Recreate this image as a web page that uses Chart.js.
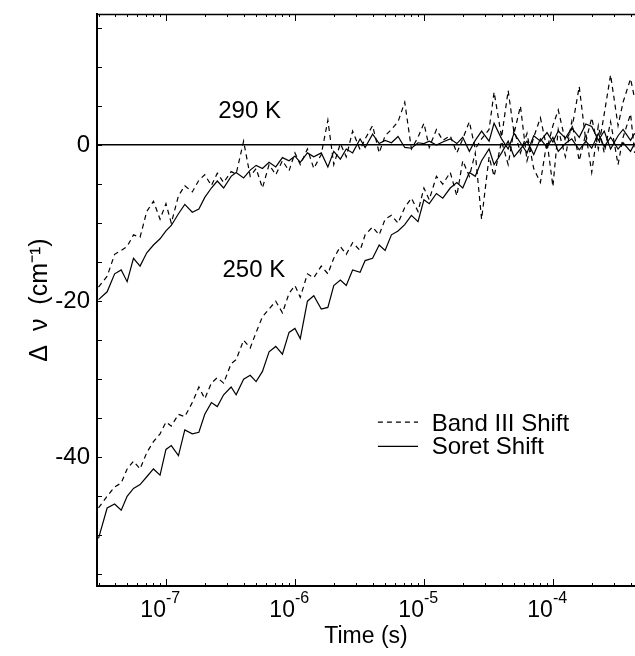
<!DOCTYPE html>
<html lang="en">

<head>
    <meta charset="UTF-8">
    <title>Band III and Soret shift</title>
    <script src="https://cdn.jsdelivr.net/npm/chart.js"></script>
    <style>
        body { margin: 0; background: #fff; }
        .graph { position: relative; width: 635px; height: 656px; }
    </style>
</head>

<body>
    <div class="graph">
        <canvas id="canvas_shift"></canvas>
    </div>
</body>

</html>
<script>
    // time base (s), shared by the four traces
    const tempos = [
        3.0e-8, 3.5e-8, 4.0e-8, 4.5e-8, 5.0e-8, 5.6e-8, 6.3e-8, 7.1e-8, 8.0e-8, 9.0e-8,
        1.0e-7, 1.1e-7, 1.25e-7, 1.4e-7, 1.6e-7, 1.8e-7, 2.0e-7, 2.25e-7, 2.5e-7, 2.8e-7,
        3.2e-7, 3.5e-7, 4.0e-7, 4.5e-7, 5.0e-7, 5.6e-7, 6.3e-7, 7.1e-7, 8.0e-7, 9.0e-7,
        1.0e-6, 1.1e-6, 1.25e-6, 1.4e-6, 1.6e-6, 1.8e-6, 2.0e-6, 2.25e-6, 2.5e-6, 2.8e-6,
        3.2e-6, 3.5e-6, 4.0e-6, 4.5e-6, 5.0e-6, 5.6e-6, 6.3e-6, 7.1e-6, 8.0e-6, 9.0e-6,
        1.0e-5, 1.1e-5, 1.25e-5, 1.4e-5, 1.6e-5, 1.8e-5, 2.0e-5, 2.25e-5, 2.5e-5, 2.8e-5,
        3.2e-5, 3.5e-5, 4.0e-5, 4.5e-5, 5.0e-5, 5.6e-5, 6.3e-5, 7.1e-5, 8.0e-5, 9.0e-5,
        1.0e-4, 1.1e-4, 1.25e-4, 1.4e-4, 1.6e-4, 1.8e-4, 2.0e-4, 2.25e-4, 2.5e-4, 2.8e-4,
        3.2e-4, 3.5e-4, 4.0e-4, 4.3e-4
    ];

    // 290 K
    const soret290 = [
        -19.8, -18.8, -16.5, -16.0, -17.5, -14.5, -15.5, -13.8, -12.8, -12.0,
        -11.0, -10.3, -8.8, -7.6, -8.6, -8.2, -6.7, -5.5, -4.6, -5.5,
        -4.0, -3.5, -4.2, -3.2, -2.6, -3.0, -2.2, -2.8, -1.6, -2.0,
        -1.4, -2.2, -1.0, -1.5, -1.0, -2.8, -0.8, -1.8, -0.5, -1.0,
        0.8, -0.3, 1.4, 0.2, 0.6, 0.3, 1.1, -0.3, -0.4, 0.3,
        0.2, 0.5, 0.0, 0.4, 0.8, 0.2, 1.0, -0.8, 0.6, 1.8,
        0.5, 2.8, 0.8, -0.5, 1.5, 0.3, -1.0, 1.2, 0.5, 1.6,
        0.4, 1.8, 0.9, 2.2, 1.0, 2.7, 2.4, 0.6, 1.8, -0.5,
        1.2, 2.0, 0.6, 1.5
    ];
    const banda290 = [
        -18.2, -16.8, -14.0, -13.5, -13.0, -11.5, -11.8, -8.5, -7.2, -9.5,
        -7.5, -10.0, -6.5, -5.2, -6.0, -4.5, -3.8, -5.2, -3.6, -4.8,
        -3.4, -3.7, 0.5, -4.0, -3.0, -5.5, -2.5, -3.8, -2.0, -3.3,
        -1.0, -2.5, -0.5, -3.0, -1.2, 3.2, -2.5, 0.2, -1.5, 1.8,
        -0.6, 0.8, 2.5, -1.0, 1.2, 2.0, 3.0, 5.5, -0.5, 1.0,
        2.8, -0.3, 2.0, 0.6, 1.2, -1.0, 0.8, 3.0, -0.5, 0.8,
        2.0, 6.8, 1.0, 7.0, 1.5, 5.0, -2.0, 1.0, 3.5, -0.5,
        2.5, 4.5, 0.5, 2.0, 7.5, 0.5, 3.5, -0.5, 4.0, 9.0,
        2.5, 5.5, 8.5, 6.0
    ];

    // 250 K
    const soret250 = [
        -50.4, -46.5, -46.0, -46.8, -45.0, -44.0, -43.5, -42.5, -41.5, -42.3,
        -39.0, -38.5, -39.8, -36.5, -37.0, -36.8, -34.5, -33.0, -33.5, -32.0,
        -31.0, -32.0, -30.0, -29.5, -30.3, -29.0, -26.5, -25.8, -26.8, -24.0,
        -23.5, -24.8, -20.0, -19.3, -21.0, -20.8, -18.0, -17.3, -18.0, -16.0,
        -16.3, -14.8, -14.5, -12.8, -13.5, -11.5, -11.0, -10.2, -9.0, -9.8,
        -7.0, -7.5, -6.2, -6.8, -5.5, -4.8, -5.5, -3.5, -4.0, -2.0,
        -0.5, -2.5, -1.0, 0.5, -1.5, -0.5, 0.5, -1.2, 0.8, -0.3,
        1.0, -0.8, 0.2, 0.8, -0.6, 0.5, -0.4, 1.5, -0.2, 1.0,
        -0.5, 0.3, -0.8, 0.2
    ];
    const banda250 = [
        -46.5, -45.0, -43.8, -43.3, -41.5, -40.5, -41.5, -39.4, -38.0, -37.0,
        -35.5, -36.0, -34.5, -34.8, -33.0, -31.0, -32.5, -30.5, -29.8, -30.5,
        -28.0, -27.5, -25.0, -26.0, -24.0, -22.0, -21.0, -20.0, -21.5, -19.0,
        -18.0, -19.5, -16.5, -17.0, -15.5, -16.5, -14.5, -13.0, -14.0, -12.5,
        -13.5, -11.5, -10.5, -11.5, -9.5, -9.0, -10.0, -8.0, -6.8, -8.5,
        -5.5, -7.0, -4.0, -5.0, -3.5, -6.5, -2.0, -4.0, -1.0, -9.5,
        -1.5, -4.0, 0.5, -2.5, 2.0, -1.0, 1.5, -3.0, -4.8, 0.5,
        -5.3, 2.0, -1.5, 3.0, -2.0, 1.5, -3.5, 2.5, -1.0, 3.0,
        -2.5, 1.0, 4.0, -1.0
    ];

    const ticksY = [0, -20, -40];
    const decadas = [1e-7, 1e-6, 1e-5, 1e-4];
    const legenda = ['Band III Shift', 'Soret Shift'];

    const fonte = '"Liberation Sans", Arial, Helvetica, sans-serif';
    const tracejado = [5, 4];

    // inward ticks, top frame, decade labels, temperature notes and legend
    const decoracao = {
        id: 'decoracao',
        afterDraw(chart) {
            const { ctx, chartArea: a, scales: { x, y } } = chart;
            ctx.save();
            ctx.strokeStyle = '#000';
            ctx.fillStyle = '#000';

            ctx.lineWidth = 1.5;
            ctx.beginPath();
            ctx.moveTo(a.left, a.top + 0.5);
            ctx.lineTo(a.right, a.top + 0.5);
            ctx.stroke();

            ctx.lineWidth = 1;
            for (let v = -55; v <= 15; v += 5) {
                const py = Math.round(y.getPixelForValue(v)) + 0.5;
                ctx.beginPath();
                ctx.moveTo(a.left, py);
                ctx.lineTo(a.left + 5, py);
                ctx.stroke();
            }

            for (let e = -8; e <= -4; e++) {
                for (let m = 1; m <= 9; m++) {
                    const t = m * Math.pow(10, e);
                    if (t < x.min || t > x.max) continue;
                    const px = Math.round(x.getPixelForValue(t)) + 0.5;
                    const len = m === 1 ? 7 : 3;
                    ctx.beginPath();
                    ctx.moveTo(px, a.bottom);
                    ctx.lineTo(px, a.bottom - len);
                    ctx.moveTo(px, a.top);
                    ctx.lineTo(px, a.top + len);
                    ctx.stroke();
                }
            }

            decadas.forEach(function (d) {
                const px = x.getPixelForValue(d);
                ctx.textAlign = 'right';
                ctx.textBaseline = 'alphabetic';
                ctx.font = '23px ' + fonte;
                ctx.fillText('10', px, a.bottom + 31);
                ctx.textAlign = 'left';
                ctx.font = '16px ' + fonte;
                ctx.fillText(String(Math.round(Math.log10(d))), px, a.bottom + 17);
            });

            ctx.font = '24px ' + fonte;
            ctx.textAlign = 'center';
            ctx.fillText('290 K', x.getPixelForValue(4.45e-7), y.getPixelForValue(3.46));
            ctx.fillText('250 K', x.getPixelForValue(4.8e-7), y.getPixelForValue(-16.96));

            const x0 = x.getPixelForValue(4.4e-6);
            const x1 = x.getPixelForValue(9.0e-6);
            const xt = x.getPixelForValue(1.15e-5);
            ctx.lineWidth = 1.2;
            ctx.setLineDash(tracejado);
            ctx.beginPath();
            ctx.moveTo(x0, y.getPixelForValue(-35.5));
            ctx.lineTo(x1, y.getPixelForValue(-35.5));
            ctx.stroke();
            ctx.setLineDash([]);
            ctx.beginPath();
            ctx.moveTo(x0, y.getPixelForValue(-38.6));
            ctx.lineTo(x1, y.getPixelForValue(-38.6));
            ctx.stroke();
            ctx.textAlign = 'left';
            ctx.fillText(legenda[0], xt, y.getPixelForValue(-36.67));
            ctx.fillText(legenda[1], xt, y.getPixelForValue(-39.6));

            ctx.restore();
        }
    };

    function plotarGrafico() {
        const grafico = document.getElementById('canvas_shift');

        const dados = {
            labels: tempos,
            datasets: [
                { label: '290 K ' + legenda[0], data: banda290, borderDash: tracejado },
                { label: '290 K ' + legenda[1], data: soret290 },
                { label: '250 K ' + legenda[0], data: banda250, borderDash: tracejado },
                { label: '250 K ' + legenda[1], data: soret250 }
            ]
        };

        new Chart(grafico, {
            type: 'line',
            data: dados,
            options: {
                responsive: true,
                maintainAspectRatio: false,
                animation: false,
                layout: { padding: { top: 14, right: 0, bottom: 0, left: 0 } },
                elements: {
                    point: { radius: 0 },
                    line: { tension: 0, borderWidth: 1.2, borderColor: '#000', fill: false }
                },
                plugins: {
                    legend: { display: false },
                    tooltip: { enabled: false }
                },
                scales: {
                    x: {
                        type: 'logarithmic',
                        min: 2.92e-8,
                        max: 4.33e-4,
                        grid: { display: false, drawTicks: false },
                        border: { display: true, color: '#000', width: 2 },
                        ticks: { display: false },
                        title: {
                            display: true,
                            text: 'Time (s)',
                            color: '#000',
                            font: { family: fonte, size: 23 },
                            padding: { top: 0, bottom: 6 }
                        },
                        afterFit: function (s) { s.height = 70; }
                    },
                    y: {
                        min: -56.5,
                        max: 16.8,
                        grid: {
                            drawTicks: false,
                            lineWidth: 1.5,
                            color: function (c) {
                                return c.tick && c.tick.value === 0 ? '#000' : 'rgba(0,0,0,0)';
                            }
                        },
                        border: { color: '#000', width: 2 },
                        ticks: {
                            stepSize: 5,
                            padding: 7,
                            color: '#000',
                            font: { family: fonte, size: 24 },
                            callback: function (v) { return ticksY.includes(v) ? String(v) : null; }
                        },
                        title: {
                            display: true,
                            text: 'Δ  ν  (cm⁻¹)',
                            color: '#000',
                            font: { family: fonte, size: 25 },
                            padding: { top: 25, bottom: 0 }
                        },
                        afterFit: function (s) {
                            s.width = 97;
                            s.paddingTop = 0;
                            s.paddingBottom = 0;
                        }
                    }
                }
            },
            plugins: [decoracao]
        });
    }

    plotarGrafico();
</script>
